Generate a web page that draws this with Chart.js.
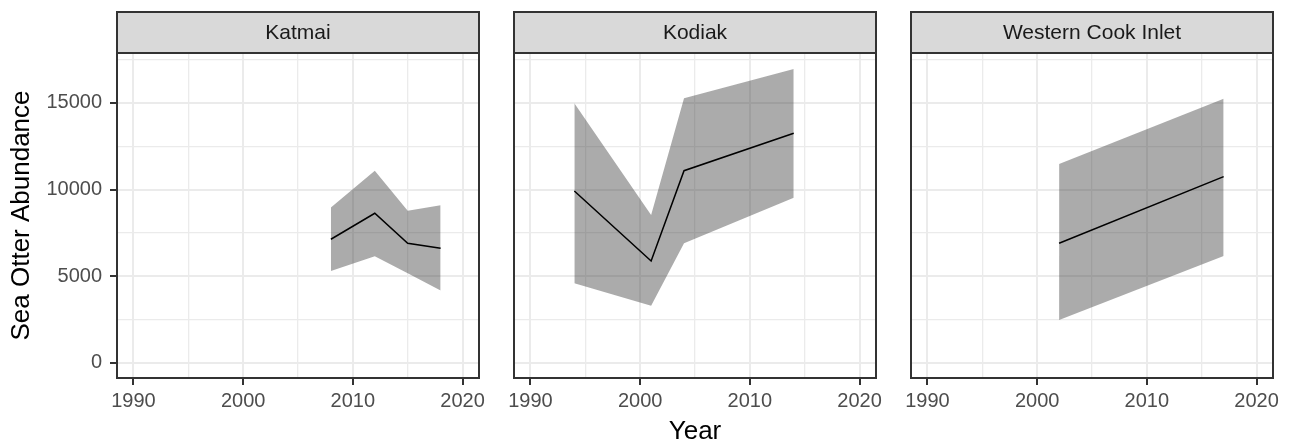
<!DOCTYPE html>
<html>
<head>
<meta charset="utf-8">
<title>Sea Otter Abundance</title>
<script src="https://cdn.jsdelivr.net/npm/chart.js@4.4.1/dist/chart.umd.min.js"></script>
<style>
  html, body { margin: 0; padding: 0; background: #fff; }
  #wrap { position: relative; width: 1291px; height: 443px; overflow: hidden; }
  #wrap canvas { position: absolute; top: 0; }
</style>
</head>
<body>
<div id="wrap">
  <canvas id="p1" width="490" height="443" style="left:0px"></canvas>
  <canvas id="p2" width="490" height="443" style="left:397px"></canvas>
  <canvas id="p3" width="490" height="443" style="left:794px"></canvas>
</div>
<script>
// data
const katmaiYears = [2008, 2012, 2015, 2018];
const katmaiEst = [7135, 8635, 6905, 6615];
const katmaiLow = [5300, 6150, 5170, 4180];
const katmaiHigh = [8960, 11090, 8780, 9100];

const kodiakYears = [1994, 2001, 2004, 2014];
const kodiakEst = [9920, 5880, 11090, 13250];
const kodiakLow = [4600, 3300, 6900, 9530];
const kodiakHigh = [14980, 8540, 15270, 16960];

const wciYears = [2002, 2017];
const wciEst = [6900, 10745];
const wciLow = [2480, 6170];
const wciHigh = [11475, 15240];

const xTicks = [1990, 2000, 2010, 2020];
const xGrid = [1990, 1995, 2000, 2005, 2010, 2015, 2020];
const yTicks = [0, 5000, 10000, 15000];
const yGrid = [0, 2500, 5000, 7500, 10000, 12500, 15000, 17500];

Chart.defaults.font.family = "'Liberation Sans', Arial, sans-serif";
Chart.defaults.animation = false;

const toPoints = (xs, ys) => xs.map((x, i) => ({ x: x, y: ys[i] }));

const panelFrame = {
  id: "panelFrame",
  afterDraw(chart, args, opts) {
    const { ctx, chartArea } = chart;
    const { left, right, top, bottom } = chartArea;
    ctx.save();
    // strip
    ctx.fillStyle = "#D9D9D9";
    ctx.fillRect(left, 12, right - left, top - 12);
    ctx.strokeStyle = "#333333";
    ctx.lineWidth = 2;
    ctx.strokeRect(left, 12, right - left, top - 12);
    ctx.fillStyle = "#1A1A1A";
    ctx.font = "21px 'Liberation Sans', Arial, sans-serif";
    ctx.textAlign = "center";
    ctx.textBaseline = "middle";
    ctx.fillText(opts.label, (left + right) / 2, (12 + top) / 2 + 1);
    // panel border
    ctx.strokeRect(left, top, right - left, bottom - top);
    ctx.restore();
  },
};

function makePanel(id, label, years, est, low, high, first, middle) {
  new Chart(document.getElementById(id), {
    type: "line",
    data: {
      datasets: [
        {
          data: toPoints(years, est),
          borderColor: "#000000",
          borderWidth: 1.5,
          pointRadius: 0,
          fill: false,
          tension: 0,
        },
        {
          data: toPoints(years, high),
          borderWidth: 0,
          pointRadius: 0,
          backgroundColor: "rgba(51, 51, 51, 0.41)",
          fill: "+1",
          tension: 0,
        },
        {
          data: toPoints(years, low),
          borderWidth: 0,
          pointRadius: 0,
          fill: false,
          tension: 0,
        },
      ],
    },
    options: {
      responsive: false,
      devicePixelRatio: 1,
      layout: { padding: { left: 0, top: 53, right: 11, bottom: 0 } },
      plugins: {
        legend: { display: false },
        tooltip: { enabled: false },
        panelFrame: { label: label },
      },
      scales: {
        x: {
          type: "linear",
          min: 1988.5,
          max: 2021.5,
          afterBuildTicks: (s) => { s.ticks = xGrid.map((v) => ({ value: v })); },
          afterFit: (s) => { s.height = 65; },
          border: { display: false },
          grid: {
            color: "#EBEBEB",
            lineWidth: (c) => (c.tick && xTicks.includes(c.tick.value) ? 2 : 1.3),
            tickLength: 7,
            tickWidth: 2,
            tickColor: (c) => (c.tick && xTicks.includes(c.tick.value) ? "#333333" : "rgba(0,0,0,0)"),
          },
          ticks: {
            autoSkip: false,
            maxRotation: 0,
            padding: 4,
            color: "#4D4D4D",
            font: { size: 20 },
            callback: (v) => (xTicks.includes(v) ? String(v) : ""),
          },
          title: {
            display: middle,
            text: "Year",
            color: "#000000",
            font: { size: 26, lineHeight: 0.85 },
            padding: { top: 0, bottom: 0 },
          },
        },
        y: {
          type: "linear",
          min: -870,
          max: 17880,
          afterBuildTicks: (s) => { s.ticks = yGrid.map((v) => ({ value: v })); },
          afterFit: (s) => { s.width = 117; },
          border: { display: false },
          grid: {
            color: "#EBEBEB",
            lineWidth: (c) => (c.tick && yTicks.includes(c.tick.value) ? 2 : 1.3),
            drawTicks: first,
            tickLength: 7,
            tickWidth: 2,
            tickColor: (c) => (c.tick && yTicks.includes(c.tick.value) ? "#333333" : "rgba(0,0,0,0)"),
          },
          ticks: {
            padding: 8,
            color: "#4D4D4D",
            font: { size: 20 },
            callback: (v) => (first && yTicks.includes(v) ? String(v) : ""),
          },
          title: {
            display: first,
            text: "Sea Otter Abundance",
            color: "#000000",
            font: { size: 26, lineHeight: 1 },
            padding: { top: 9, bottom: 0 },
          },
        },
      },
    },
    plugins: [panelFrame],
  });
}

makePanel("p1", "Katmai", katmaiYears, katmaiEst, katmaiLow, katmaiHigh, true, false);
makePanel("p2", "Kodiak", kodiakYears, kodiakEst, kodiakLow, kodiakHigh, false, true);
makePanel("p3", "Western Cook Inlet", wciYears, wciEst, wciLow, wciHigh, false, false);
</script>
</body>
</html>
